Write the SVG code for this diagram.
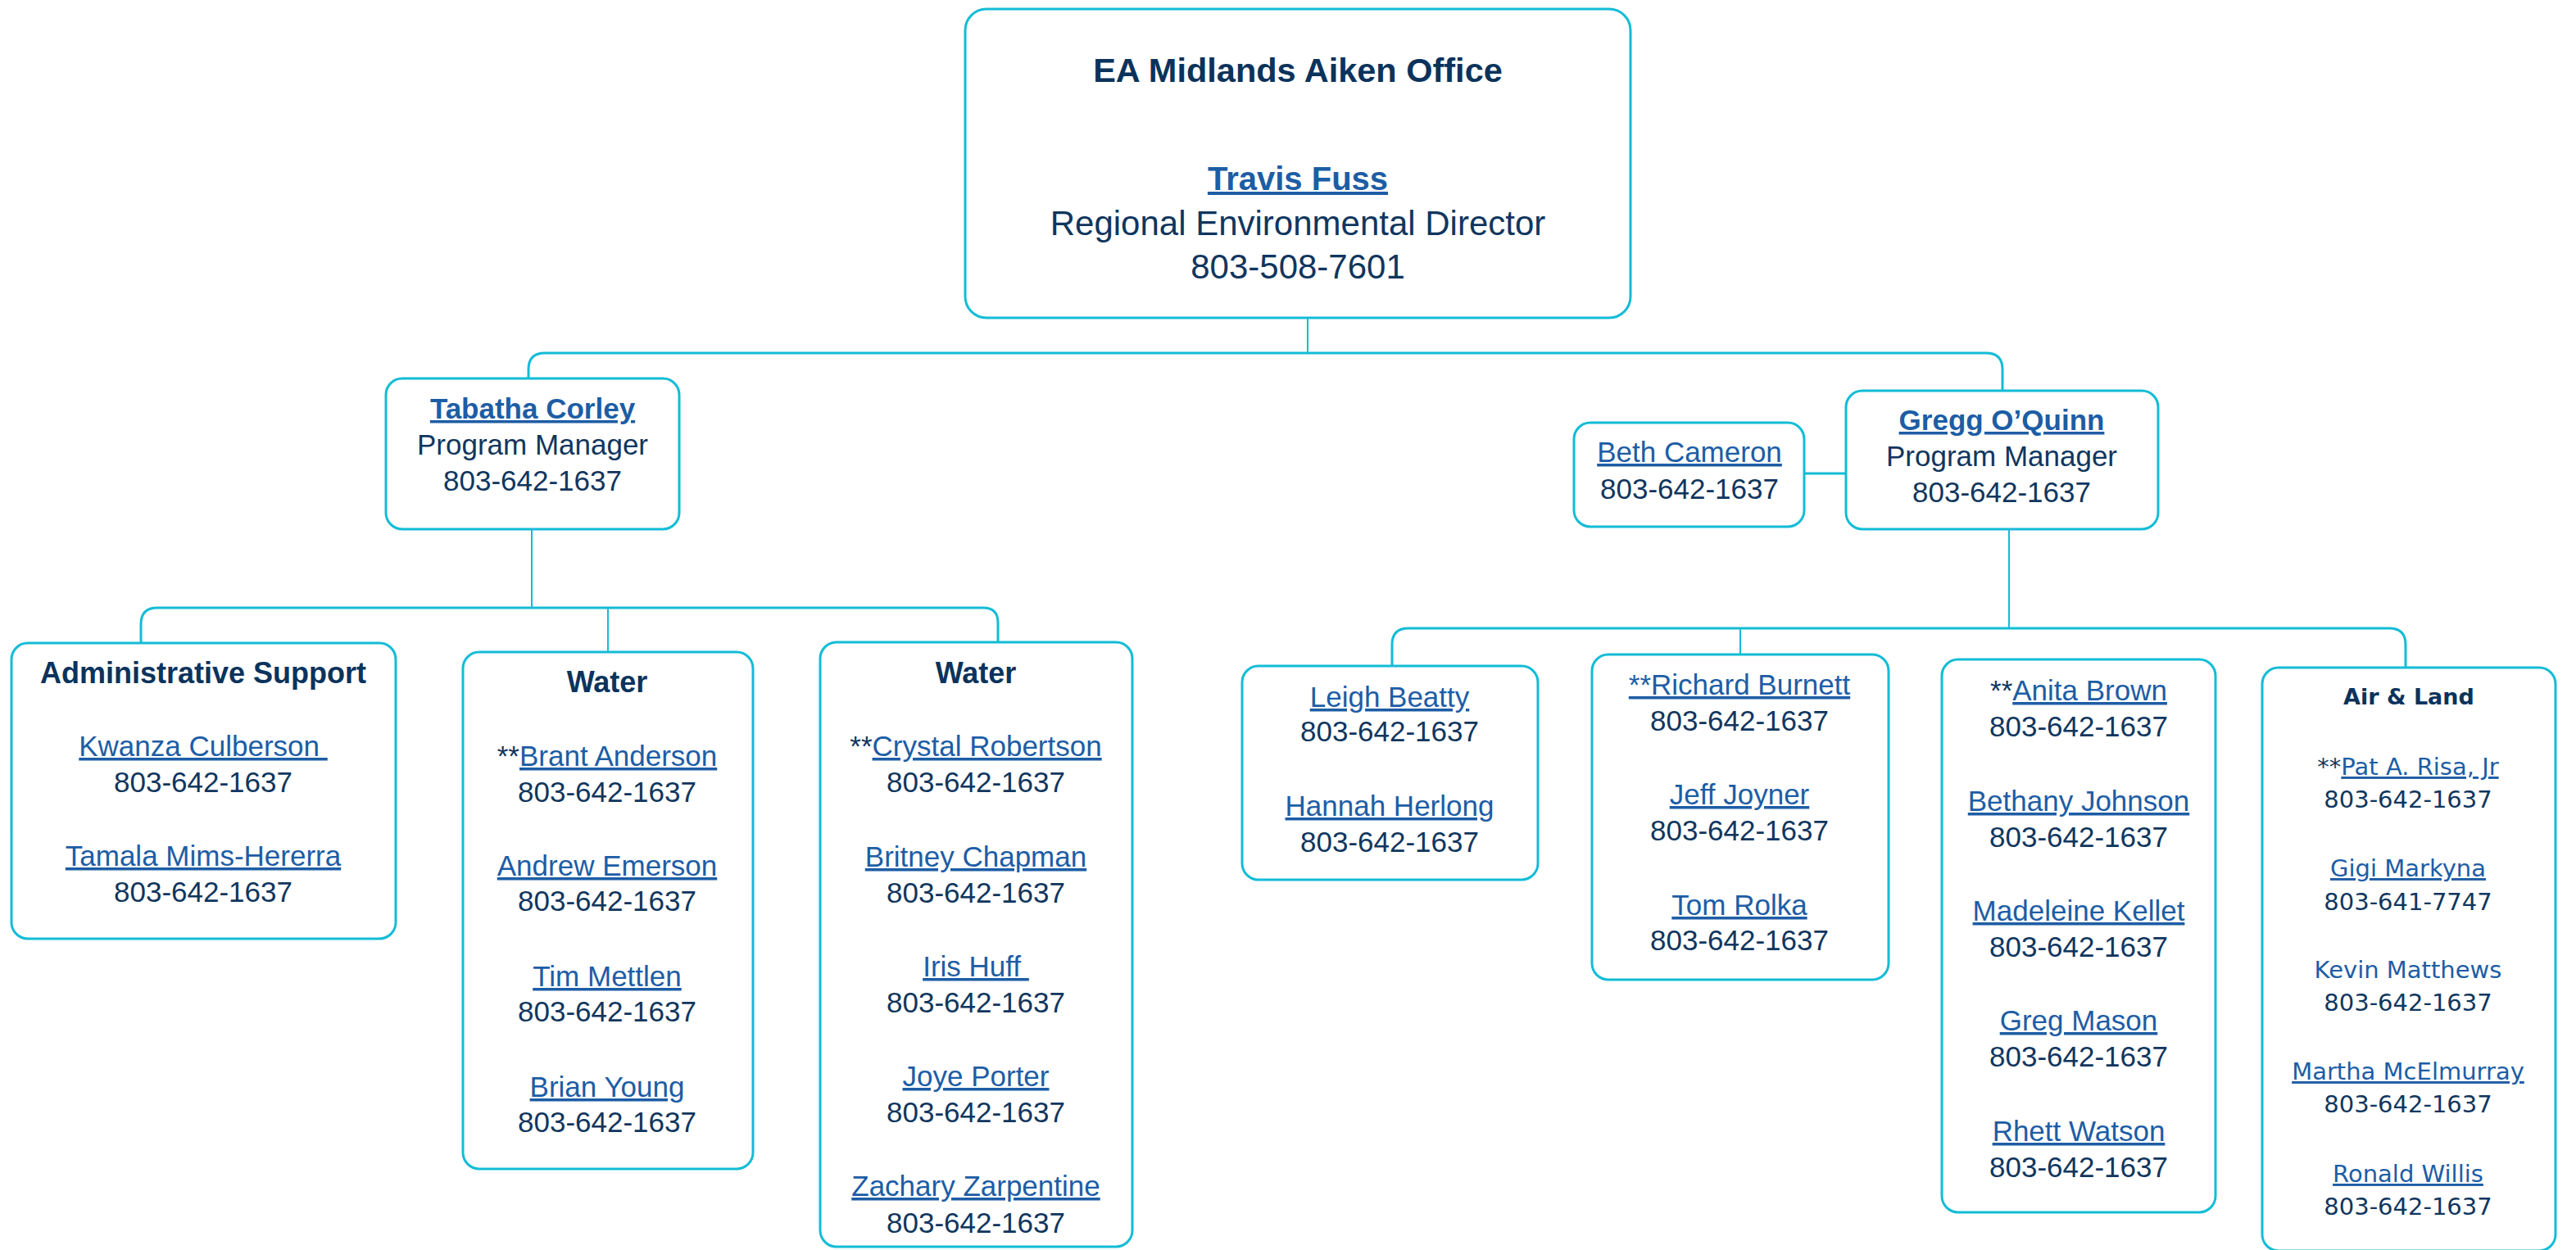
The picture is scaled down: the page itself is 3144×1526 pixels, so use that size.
<svg xmlns="http://www.w3.org/2000/svg" width="3144" height="1526" viewBox="0 0 3144 1526">
<style>
.box{fill:#fff;stroke:#13BCD6;stroke-width:3}
.cn{fill:none;stroke:#13BCD6;stroke-width:3}
.cn2{fill:none;stroke:#13BCD6;stroke-width:2}
text{font-family:"Liberation Sans",Arial,sans-serif;text-anchor:middle;font-size:35px;fill:#10365E}
.h{font-weight:bold;font-size:36px;fill:#0B335C}
.b{font-weight:bold}
.l{fill:#1D5DA5;text-decoration:underline}
.k{fill:#1D5DA5}
.a{fill:#10365E}
.al{font-family:"DejaVu Sans",sans-serif;font-size:29px}
.alh{font-family:"DejaVu Sans",sans-serif;font-weight:bold;font-size:27px;fill:#0B335C}
.pre{white-space:pre}
</style>
<rect width="3144" height="1526" fill="#fff"/>
<g id="connectors">
<path class="cn2" d="M1596 388 V431"/>
<path class="cn" d="M645 462 V451 Q645 431 665 431 H2424 Q2444 431 2444 451 V477"/>
<path class="cn2" d="M649 646 V742"/>
<path class="cn" d="M172 785 V762 Q172 742 192 742 H1200 Q1218 742 1218 760 V784"/>
<path class="cn2" d="M742 742 V796"/>
<path class="cn" d="M2202 578 H2253"/>
<path class="cn2" d="M2452 646 V767"/>
<path class="cn" d="M1699 813 V787 Q1699 767 1719 767 H2916 Q2936 767 2936 787 V815"/>
<path class="cn2" d="M2124 767 V799"/>
</g>
<g id="office">
<rect class="box" x="1178" y="11" width="812" height="377" rx="26"/>
<text x="1584" y="100" class="b" style="font-size:41.5px;fill:#0B335C">EA Midlands Aiken Office</text>
<text x="1584" y="232" class="b l" style="font-size:40px">Travis Fuss</text>
<text x="1584" y="287" style="font-size:42px">Regional Environmental Director</text>
<text x="1584" y="340" style="font-size:42px">803-508-7601</text>
</g>
<g id="tabatha">
<rect class="box" x="471" y="462" width="358" height="184" rx="20"/>
<text x="650" y="511" class="b l">Tabatha Corley</text>
<text x="650" y="555">Program Manager</text>
<text x="650" y="599">803-642-1637</text>
</g>
<g id="beth">
<rect class="box" x="1921" y="516" width="281" height="127" rx="20"/>
<text x="2062" y="564" class="l">Beth Cameron</text>
<text x="2062" y="609">803-642-1637</text>
</g>
<g id="gregg">
<rect class="box" x="2253" y="477" width="381" height="169" rx="20"/>
<text x="2443" y="525" class="b l">Gregg O’Quinn</text>
<text x="2443" y="569">Program Manager</text>
<text x="2443" y="613">803-642-1637</text>
</g>
<g id="admin">
<rect class="box" x="14" y="785" width="469" height="361" rx="20"/>
<text x="248" y="834" class="h">Administrative Support</text>
<text x="248" y="923" class="l pre">Kwanza Culberson </text>
<text x="248" y="967">803-642-1637</text>
<text x="248" y="1057" class="l">Tamala Mims-Hererra</text>
<text x="248" y="1101">803-642-1637</text>
</g>
<g id="water1">
<rect class="box" x="565" y="796" width="354" height="631" rx="20"/>
<text x="741" y="845" class="h">Water</text>
<text x="741" y="935"><tspan class="a">**</tspan><tspan class="l">Brant Anderson</tspan></text>
<text x="741" y="979">803-642-1637</text>
<text x="741" y="1069" class="l">Andrew Emerson</text>
<text x="741" y="1112">803-642-1637</text>
<text x="741" y="1204" class="l">Tim Mettlen</text>
<text x="741" y="1247">803-642-1637</text>
<text x="741" y="1339" class="l">Brian Young</text>
<text x="741" y="1382">803-642-1637</text>
</g>
<g id="water2">
<rect class="box" x="1001" y="784" width="381" height="738" rx="20"/>
<text x="1191" y="834" class="h">Water</text>
<text x="1191" y="923"><tspan class="a">**</tspan><tspan class="l">Crystal Robertson</tspan></text>
<text x="1191" y="967">803-642-1637</text>
<text x="1191" y="1058" class="l">Britney Chapman</text>
<text x="1191" y="1102">803-642-1637</text>
<text x="1191" y="1192" class="l pre">Iris Huff </text>
<text x="1191" y="1236">803-642-1637</text>
<text x="1191" y="1326" class="l">Joye Porter</text>
<text x="1191" y="1370">803-642-1637</text>
<text x="1191" y="1460" class="l">Zachary Zarpentine</text>
<text x="1191" y="1505">803-642-1637</text>
</g>
<g id="leigh">
<rect class="box" x="1516" y="813" width="361" height="261" rx="20"/>
<text x="1696" y="863" class="l">Leigh Beatty</text>
<text x="1696" y="905">803-642-1637</text>
<text x="1696" y="996" class="l">Hannah Herlong</text>
<text x="1696" y="1040">803-642-1637</text>
</g>
<g id="richard">
<rect class="box" x="1943" y="799" width="362" height="397" rx="20"/>
<text x="2123" y="848" class="l">**Richard Burnett</text>
<text x="2123" y="892">803-642-1637</text>
<text x="2123" y="982" class="l">Jeff Joyner</text>
<text x="2123" y="1026">803-642-1637</text>
<text x="2123" y="1117" class="l">Tom Rolka</text>
<text x="2123" y="1160">803-642-1637</text>
</g>
<g id="anita">
<rect class="box" x="2370" y="805" width="334" height="675" rx="20"/>
<text x="2537" y="855"><tspan class="a">**</tspan><tspan class="l">Anita Brown</tspan></text>
<text x="2537" y="899">803-642-1637</text>
<text x="2537" y="990" class="l">Bethany Johnson</text>
<text x="2537" y="1034">803-642-1637</text>
<text x="2537" y="1124" class="l">Madeleine Kellet</text>
<text x="2537" y="1168">803-642-1637</text>
<text x="2537" y="1258" class="l">Greg Mason</text>
<text x="2537" y="1302">803-642-1637</text>
<text x="2537" y="1393" class="l">Rhett Watson</text>
<text x="2537" y="1437">803-642-1637</text>
</g>
<g id="airland">
<rect class="box" x="2761" y="815" width="358" height="712" rx="20"/>
<text x="2940" y="860" class="alh">Air &amp; Land</text>
<text x="2939" y="946" class="al"><tspan class="a">**</tspan><tspan class="l">Pat A. Risa, Jr</tspan></text>
<text x="2939" y="986" class="al">803-642-1637</text>
<text x="2939" y="1070" class="al l">Gigi Markyna</text>
<text x="2939" y="1111" class="al">803-641-7747</text>
<text x="2939" y="1194" class="al k">Kevin Matthews</text>
<text x="2939" y="1234" class="al">803-642-1637</text>
<text x="2939" y="1318" class="al l">Martha McElmurray</text>
<text x="2939" y="1358" class="al">803-642-1637</text>
<text x="2939" y="1443" class="al l">Ronald Willis</text>
<text x="2939" y="1483" class="al">803-642-1637</text>
</g>
</svg>
